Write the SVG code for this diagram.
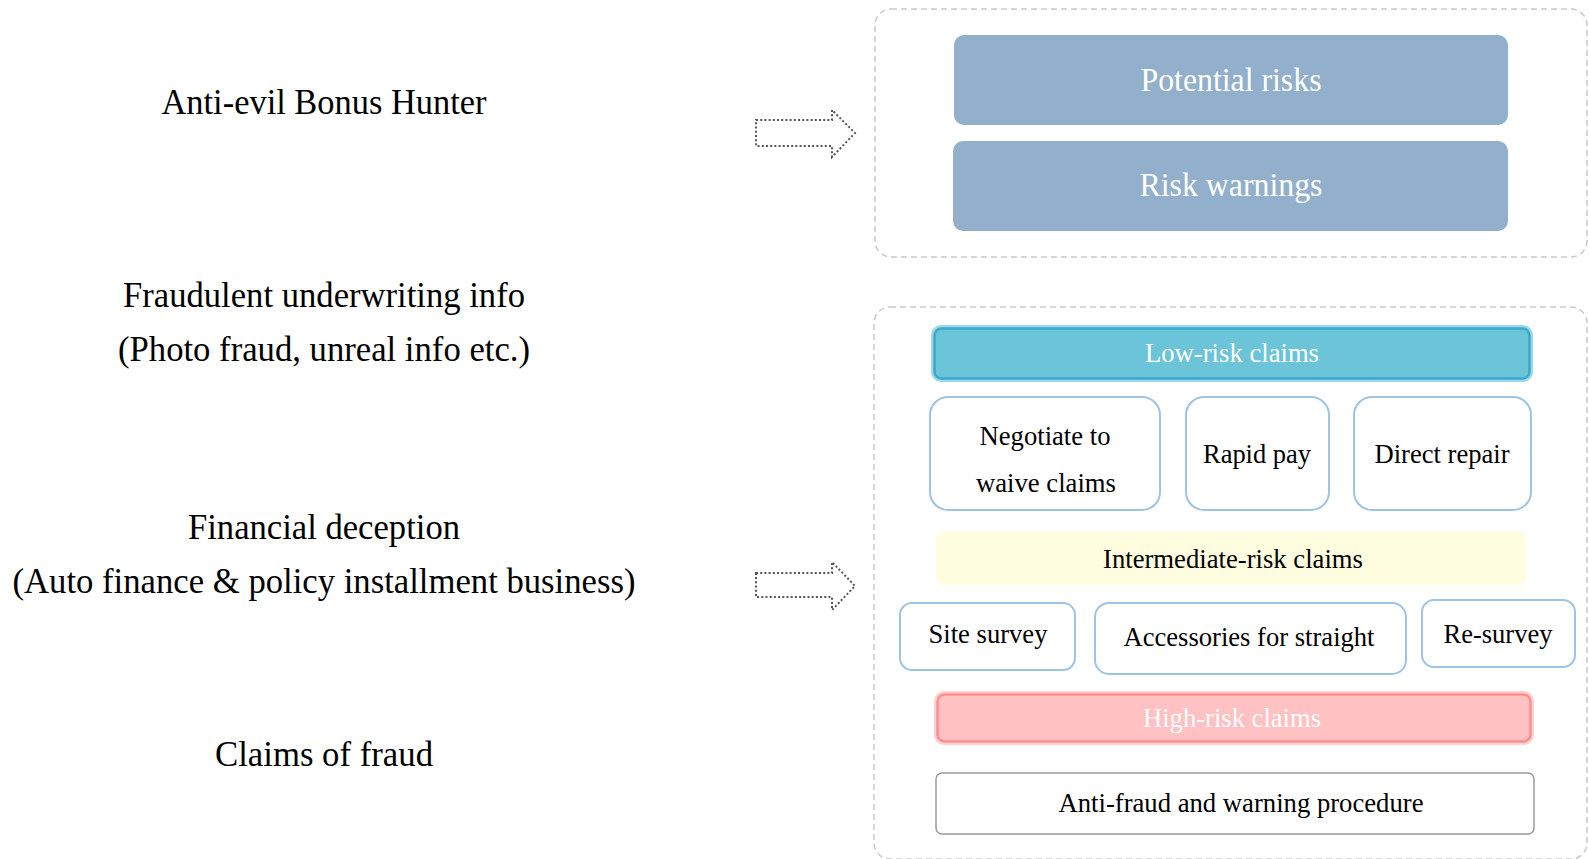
<svg xmlns="http://www.w3.org/2000/svg" width="1589" height="859" viewBox="0 0 1589 859">
  <style>
    text { font-family: "Liberation Serif", "Times New Roman", serif; text-anchor: middle; }
    .side { font-size: 36px; fill: #000; }
    .big { font-size: 34px; fill: #ffffff; }
    .lbl { font-size: 27.5px; fill: #000; }
    .lblw { font-size: 27.5px; fill: #ffffff; }
    .frame { fill: none; stroke: #c9c9c9; stroke-width: 1.5; stroke-dasharray: 6 4; }
    .risk { fill: #92afcb; }
    .opt { fill: #ffffff; stroke: #9dc3e6; stroke-width: 2; }
    .flow { fill: #ffffff; stroke: #555555; stroke-width: 2; stroke-dasharray: 2 2.2; }
  </style>

  <rect width="1589" height="859" fill="#ffffff"/>

  <!-- left column: threat categories -->
  <g id="threat-bonus-hunter">
    <text class="side" x="324" y="114" textLength="325" lengthAdjust="spacingAndGlyphs">Anti-evil Bonus Hunter</text>
  </g>
  <g id="threat-underwriting">
    <text class="side" x="324" y="307" textLength="402" lengthAdjust="spacingAndGlyphs">Fraudulent underwriting info</text>
    <text class="side" x="324" y="361" textLength="412" lengthAdjust="spacingAndGlyphs">(Photo fraud, unreal info etc.)</text>
  </g>
  <g id="threat-financial">
    <text class="side" x="324" y="539" textLength="272" lengthAdjust="spacingAndGlyphs">Financial deception</text>
    <text class="side" x="324" y="593" textLength="623" lengthAdjust="spacingAndGlyphs">(Auto finance &amp; policy installment business)</text>
  </g>
  <g id="threat-claims">
    <text class="side" x="324" y="766" textLength="218" lengthAdjust="spacingAndGlyphs">Claims of fraud</text>
  </g>

  <!-- connectors: dotted block arrows -->
  <g id="connectors">
    <path class="flow" d="M756,120 H832 V110 L855,133 L832,157 V146 H756 Z"/>
    <path class="flow" d="M756,573 H832 V562 L855,586 L832,610 V597 H756 Z"/>
  </g>

  <!-- upper panel: risk outputs -->
  <g id="panel-risks">
    <rect class="frame" x="875" y="9" width="712" height="248" rx="16"/>
  </g>
  <g id="potential-risks">
    <rect class="risk" x="954" y="35" width="554" height="90" rx="10"/>
    <text class="big" x="1231" y="91" textLength="181" lengthAdjust="spacingAndGlyphs">Potential risks</text>
  </g>
  <g id="risk-warnings">
    <rect class="risk" x="953" y="141" width="555" height="90" rx="10"/>
    <text class="big" x="1231" y="196" textLength="183" lengthAdjust="spacingAndGlyphs">Risk warnings</text>
  </g>

  <!-- lower panel: claim handling by risk level -->
  <g id="panel-claims">
    <rect class="frame" x="874" y="307" width="713" height="552" rx="16"/>
  </g>

  <g id="low-risk">
    <rect x="933" y="327" width="598" height="53" rx="8" fill="none" stroke="#9fd7e6" stroke-width="4"/>
    <rect x="934.5" y="328.5" width="595" height="50" rx="7" fill="#6cc4d9" stroke="#36abcb" stroke-width="2.5"/>
    <text class="lblw" x="1232" y="362" textLength="174" lengthAdjust="spacingAndGlyphs">Low-risk claims</text>
  </g>
  <g id="negotiate">
    <rect class="opt" x="930" y="397" width="230" height="113" rx="18"/>
    <text class="lbl" x="1045" y="445" textLength="131" lengthAdjust="spacingAndGlyphs">Negotiate to</text>
    <text class="lbl" x="1046" y="492" textLength="140" lengthAdjust="spacingAndGlyphs">waive claims</text>
  </g>
  <g id="rapid-pay">
    <rect class="opt" x="1186" y="397" width="143" height="113" rx="18"/>
    <text class="lbl" x="1257" y="463" textLength="108" lengthAdjust="spacingAndGlyphs">Rapid pay</text>
  </g>
  <g id="direct-repair">
    <rect class="opt" x="1354" y="397" width="177" height="113" rx="18"/>
    <text class="lbl" x="1442" y="463" textLength="135" lengthAdjust="spacingAndGlyphs">Direct repair</text>
  </g>

  <g id="intermediate-risk">
    <rect x="936" y="531" width="590" height="54" rx="8" fill="#fefde0"/>
    <text class="lbl" x="1233" y="568" textLength="260" lengthAdjust="spacingAndGlyphs">Intermediate-risk claims</text>
  </g>
  <g id="site-survey">
    <rect class="opt" x="900" y="603" width="175" height="67" rx="12"/>
    <text class="lbl" x="988" y="643" textLength="119" lengthAdjust="spacingAndGlyphs">Site survey</text>
  </g>
  <g id="accessories">
    <rect class="opt" x="1095" y="603" width="311" height="71" rx="14"/>
    <text class="lbl" x="1249" y="646" textLength="251" lengthAdjust="spacingAndGlyphs">Accessories for straight</text>
  </g>
  <g id="re-survey">
    <rect class="opt" x="1422" y="600" width="153" height="67" rx="12"/>
    <text class="lbl" x="1498" y="643" textLength="109" lengthAdjust="spacingAndGlyphs">Re-survey</text>
  </g>

  <g id="high-risk">
    <rect x="936" y="693" width="596" height="50" rx="8" fill="none" stroke="#ffd2d2" stroke-width="4"/>
    <rect x="937.5" y="694.5" width="593" height="47" rx="7" fill="#ffc1c1" stroke="#ff8e8e" stroke-width="2.5"/>
    <text class="lblw" x="1232" y="727" textLength="178" lengthAdjust="spacingAndGlyphs">High-risk claims</text>
  </g>
  <g id="anti-fraud">
    <rect x="936" y="773" width="598" height="61" rx="6" fill="#ffffff" stroke="#9a9a9a" stroke-width="1.5"/>
    <text class="lbl" x="1241" y="812" textLength="365" lengthAdjust="spacingAndGlyphs">Anti-fraud and warning procedure</text>
  </g>
</svg>
